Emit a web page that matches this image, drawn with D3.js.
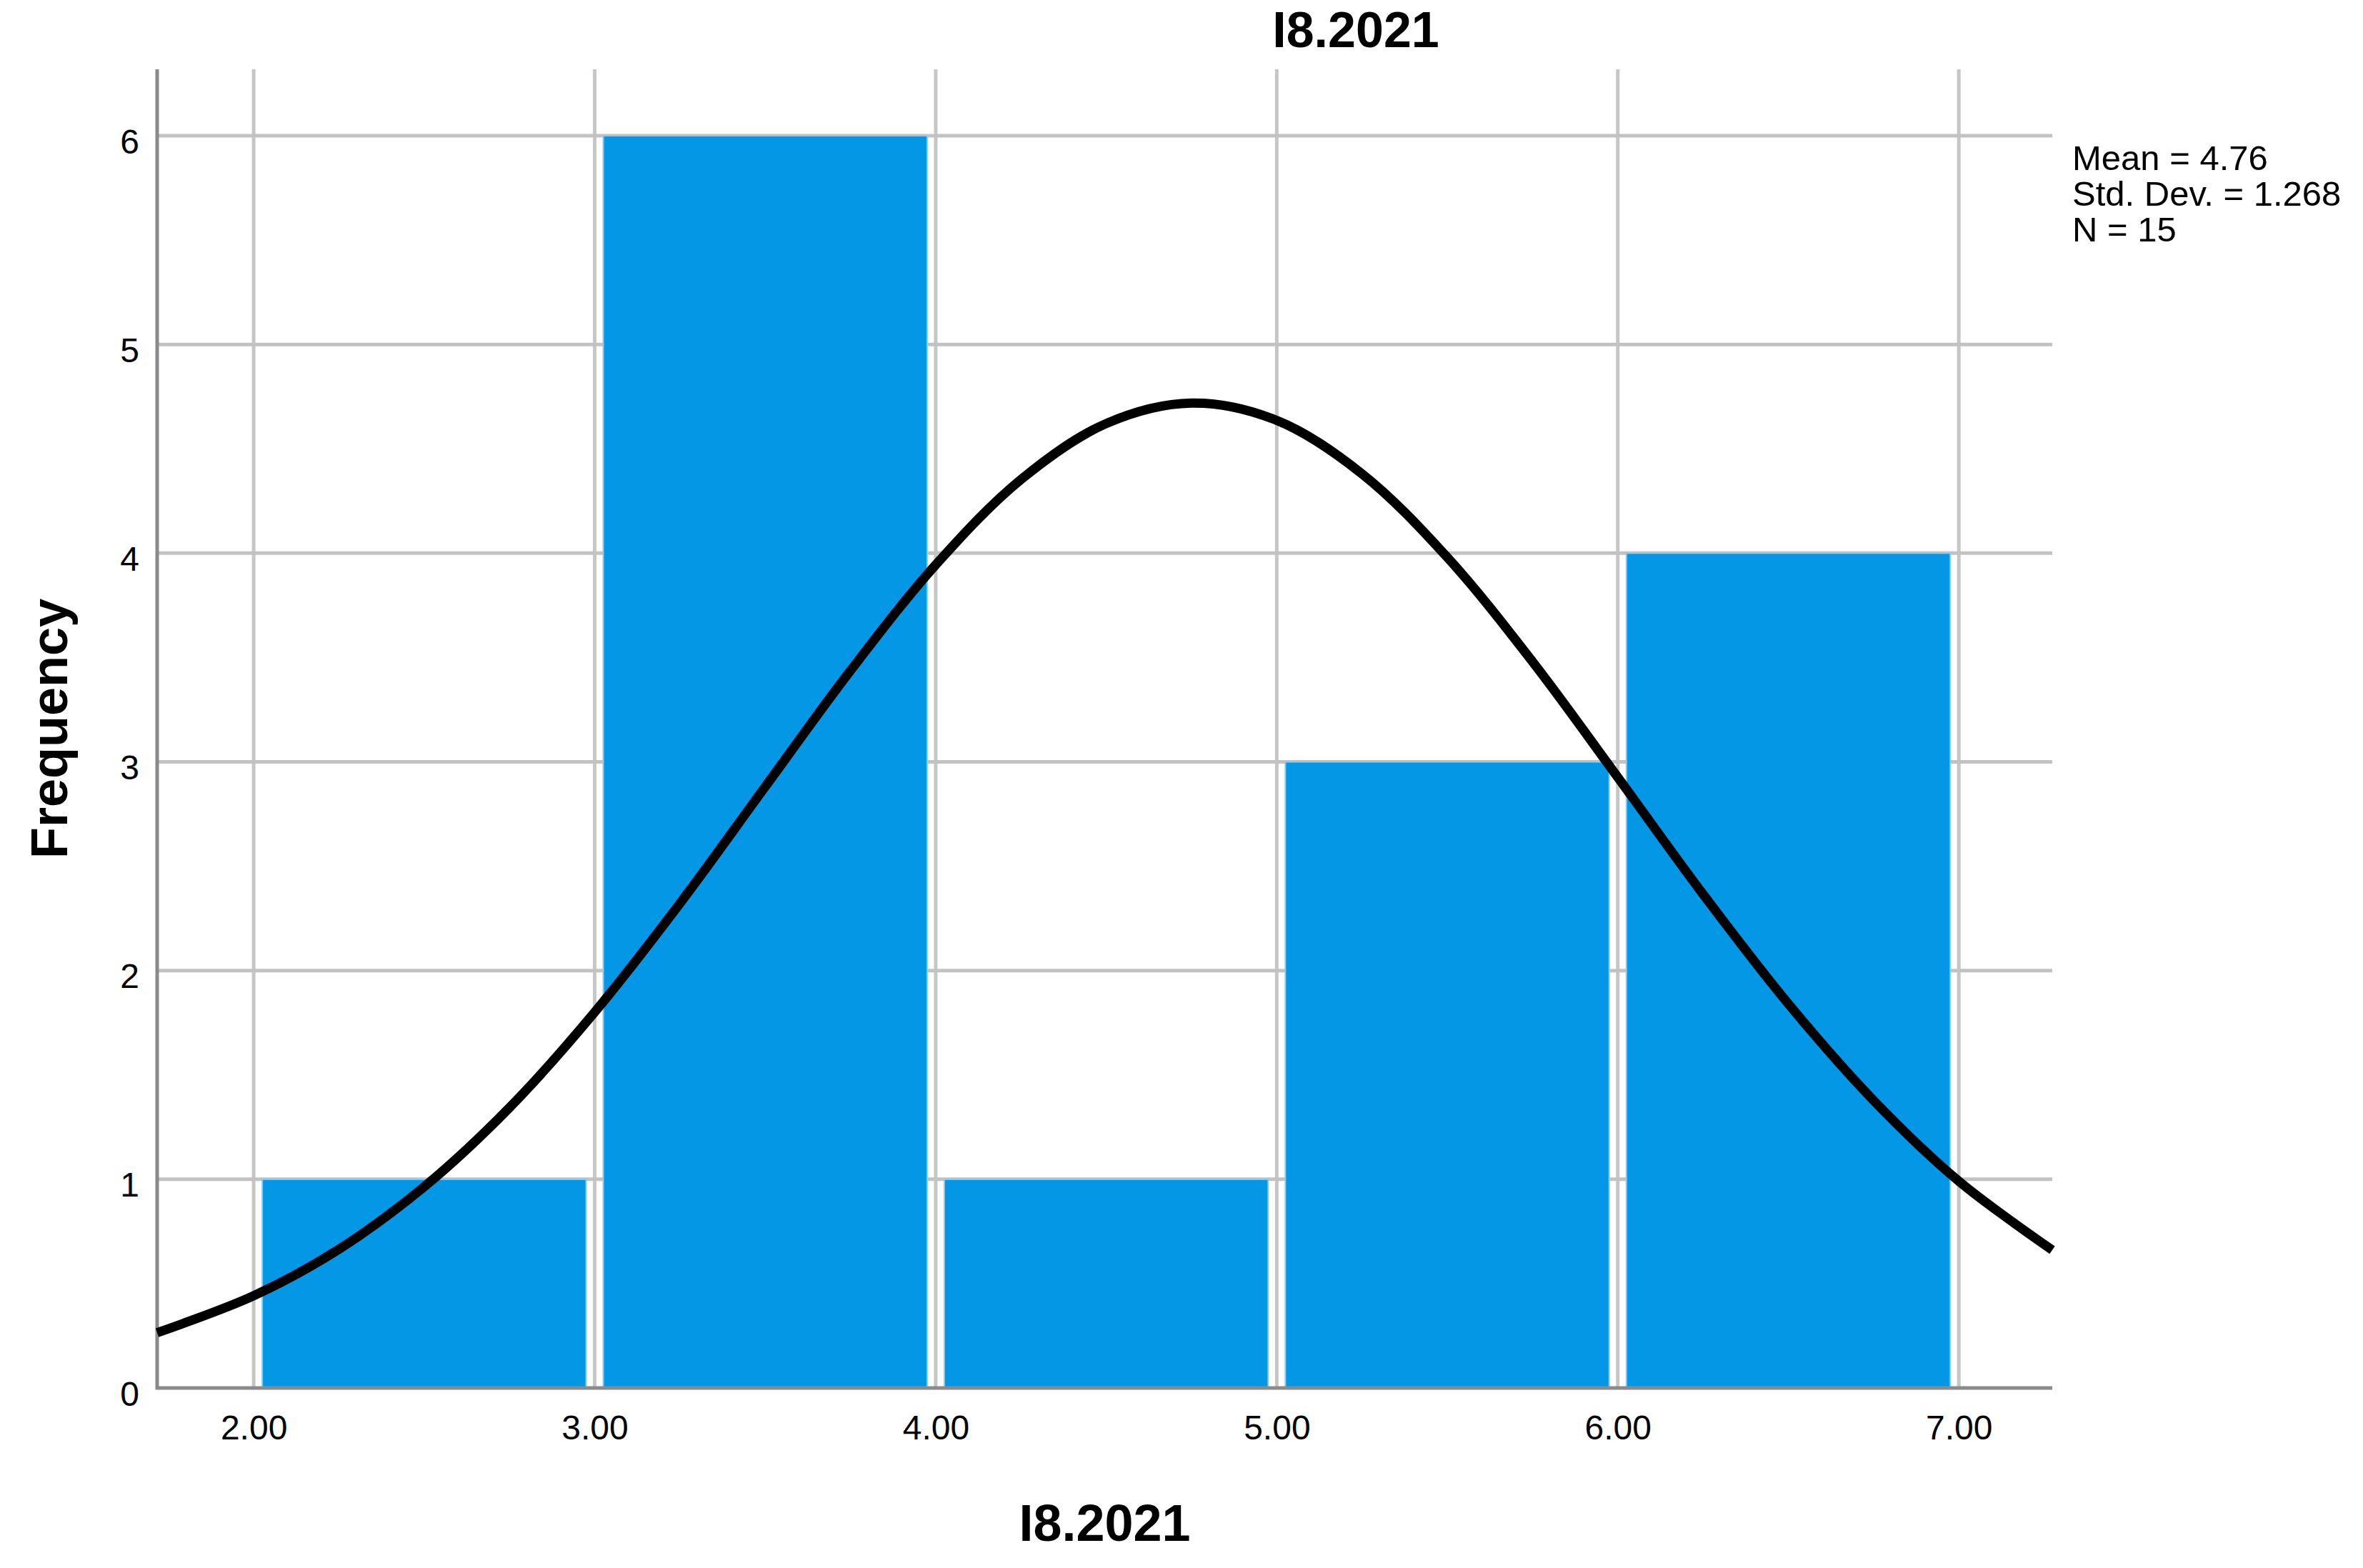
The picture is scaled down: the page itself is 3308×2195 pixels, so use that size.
<!DOCTYPE html>
<html>
<head>
<meta charset="utf-8">
<script src="https://cdn.jsdelivr.net/npm/d3@7"></script>
<style>
  body { margin: 0; background: #fff; }
  text { font-family: "Liberation Sans", Arial, sans-serif; fill: #000; }
</style>
</head>
<body>
<svg id="chart"></svg>
<script>
// histogram bins (I8.2021)
const binStarts = [2, 3, 4, 5, 6];
const binEnds = [3, 4, 5, 6, 7];
const frequencies = [1, 6, 1, 3, 4];

// axis ticks
const xTicks = [2, 3, 4, 5, 6, 7];
const yTicks = [0, 1, 2, 3, 4, 5, 6];
const xDomain = [1.717, 7.274];
const yDomain = [0, 6];

// normal curve
const curveX = [1.717, 2.0, 2.25, 2.5, 2.75, 3.0, 3.25, 3.5, 3.75, 4.0, 4.25, 4.5, 4.75,
  5.0, 5.25, 5.5, 5.75, 6.0, 6.25, 6.5, 6.75, 7.0, 7.274];
const curveY = [0.265, 0.442, 0.665, 0.964, 1.343, 1.801, 2.322, 2.881, 3.437, 3.944, 4.353, 4.621, 4.719,
  4.636, 4.380, 3.980, 3.480, 2.926, 2.366, 1.841, 1.378, 0.991, 0.661];

const statsLines = ['Mean = 4.76', 'Std. Dev. = 1.268', 'N = 15'];
const chartTitle = 'I8.2021';
const xTitle = 'I8.2021';
const yTitle = 'Frequency';

const width = 3308;
const height = 2195;
const margin = { top: 97, right: 435, bottom: 252, left: 220 };

const svg = d3.select('#chart')
  .attr('width', width)
  .attr('height', height)
  .attr('viewBox', `0 0 ${width} ${height}`);

const xScale = d3.scaleLinear()
  .domain(xDomain)
  .range([margin.left, width - margin.right]);

const yScale = d3.scaleLinear()
  .domain(yDomain)
  .range([height - margin.bottom, 190]);

const plotBottom = height - margin.bottom;
const plotRight = width - margin.right;

// gridlines
svg.append('g')
  .attr('class', 'grid-v')
  .selectAll('line')
  .data(xTicks)
  .join('line')
  .attr('x1', d => xScale(d))
  .attr('x2', d => xScale(d))
  .attr('y1', margin.top)
  .attr('y2', plotBottom)
  .attr('stroke', '#c6c6c6')
  .attr('stroke-width', 5);

svg.append('g')
  .attr('class', 'grid-h')
  .selectAll('line')
  .data(yTicks.filter(d => d > 0))
  .join('line')
  .attr('x1', margin.left)
  .attr('x2', plotRight)
  .attr('y1', d => yScale(d))
  .attr('y2', d => yScale(d))
  .attr('stroke', '#c2c2c2')
  .attr('stroke-width', 5);

// bars
const bins = binStarts.map((s, i) => ({ x0: s, x1: binEnds[i], n: frequencies[i] }));
const inset = 12;

svg.append('g')
  .attr('class', 'bars')
  .selectAll('rect')
  .data(bins)
  .join('rect')
  .attr('x', d => xScale(d.x0) + inset)
  .attr('width', d => xScale(d.x1) - xScale(d.x0) - 2 * inset)
  .attr('y', d => yScale(d.n))
  .attr('height', d => yScale(0) - yScale(d.n))
  .attr('fill', '#0497e6')
  .attr('stroke', '#8ecbf3')
  .attr('stroke-width', 2);

// axis lines
svg.append('line')
  .attr('x1', margin.left).attr('x2', margin.left)
  .attr('y1', margin.top).attr('y2', plotBottom + 2)
  .attr('stroke', '#8a8a8a').attr('stroke-width', 5);

svg.append('line')
  .attr('x1', margin.left - 2).attr('x2', plotRight)
  .attr('y1', plotBottom).attr('y2', plotBottom)
  .attr('stroke', '#8a8a8a').attr('stroke-width', 5);

// normal curve
const line = d3.line()
  .x(d => xScale(d[0]))
  .y(d => yScale(d[1]))
  .curve(d3.curveCatmullRom);

svg.append('path')
  .datum(curveX.map((x, i) => [x, curveY[i]]))
  .attr('d', line)
  .attr('fill', 'none')
  .attr('stroke', '#000')
  .attr('stroke-width', 13);

// tick labels
const xAxis = d3.axisBottom(xScale)
  .tickValues(xTicks)
  .tickFormat(d3.format('.2f'))
  .tickSize(0)
  .tickPadding(0);

const gx = svg.append('g')
  .attr('transform', `translate(0, ${plotBottom})`)
  .call(xAxis);
gx.select('.domain').remove();
gx.selectAll('text')
  .attr('y', 72)
  .attr('dy', 0)
  .style('font-size', '48px')
  .style('font-family', '"Liberation Sans", Arial, sans-serif')
  .attr('fill', '#000');

const yAxis = d3.axisLeft(yScale)
  .tickValues(yTicks)
  .tickFormat(d3.format('d'))
  .tickSize(0)
  .tickPadding(0);

const gy = svg.append('g')
  .attr('transform', `translate(${margin.left}, 0)`)
  .call(yAxis);
gy.select('.domain').remove();
gy.selectAll('text')
  .attr('x', -25)
  .attr('dy', 24)
  .style('font-size', '48px')
  .style('font-family', '"Liberation Sans", Arial, sans-serif')
  .attr('fill', '#000');

// titles
svg.append('text')
  .attr('x', 1898)
  .attr('y', 66)
  .attr('text-anchor', 'middle')
  .style('font-size', '70px')
  .style('font-weight', 'bold')
  .text(chartTitle);

svg.append('text')
  .attr('x', (margin.left + plotRight) / 2)
  .attr('y', 2157)
  .attr('text-anchor', 'middle')
  .style('font-size', '72px')
  .style('font-weight', 'bold')
  .text(xTitle);

svg.append('text')
  .attr('transform', `translate(94, ${(margin.top + plotBottom) / 2}) rotate(-90)`)
  .attr('text-anchor', 'middle')
  .style('font-size', '72px')
  .style('font-weight', 'bold')
  .text(yTitle);

// stats box
svg.append('g')
  .selectAll('text')
  .data(statsLines)
  .join('text')
  .attr('x', 2901)
  .attr('y', (d, i) => 238 + i * 50)
  .style('font-size', '49px')
  .text(d => d);
</script>
</body>
</html>
